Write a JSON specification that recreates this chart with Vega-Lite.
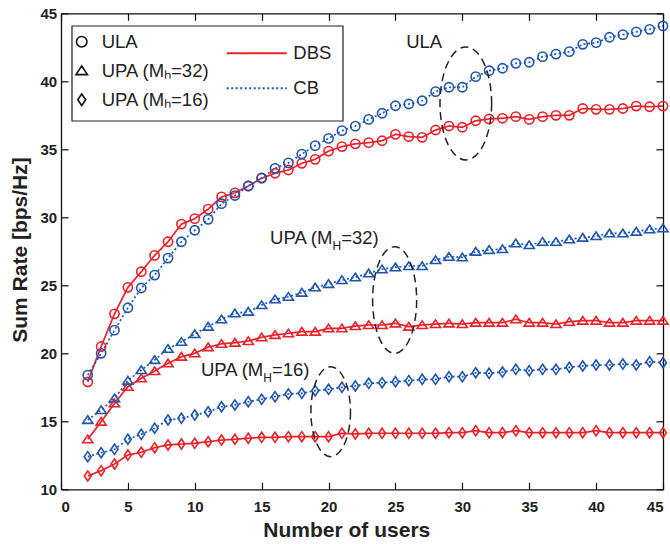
{
"$schema":"https://vega.github.io/schema/vega-lite/v6.json",
"width":602,"height":476,
"autosize":{"type":"none"},
"padding":{"left":61,"top":13.3,"right":7,"bottom":54.7},
"config":{"view":{"stroke":null},"font":"Liberation Sans",
"axis":{"grid":false,"domainColor":"#111","domainWidth":1.3,"tickColor":"#111","tickWidth":1.2,"tickSize":-7,"labelFont":"Liberation Sans","labelFontSize":15,"labelFontWeight":"bold","labelColor":"#222","titleFont":"Liberation Sans","titleFontSize":21,"titleFontWeight":"bold","titleColor":"#222"},
"legend":{"labelFont":"Liberation Sans","labelFontSize":18.5,"labelColor":"#222","padding":0,"title":null}},
"datasets":{"series":[
{"users":2,"array":"ULA","method":"DBS","rate":17.9},{"users":3,"array":"ULA","method":"DBS","rate":20.5},{"users":4,"array":"ULA","method":"DBS","rate":22.9},{"users":5,"array":"ULA","method":"DBS","rate":24.85},{"users":6,"array":"ULA","method":"DBS","rate":26.0},{"users":7,"array":"ULA","method":"DBS","rate":27.2},{"users":8,"array":"ULA","method":"DBS","rate":28.2},{"users":9,"array":"ULA","method":"DBS","rate":29.5},{"users":10,"array":"ULA","method":"DBS","rate":29.9},{"users":11,"array":"ULA","method":"DBS","rate":30.6},{"users":12,"array":"ULA","method":"DBS","rate":31.5},{"users":13,"array":"ULA","method":"DBS","rate":31.8},{"users":14,"array":"ULA","method":"DBS","rate":32.3},{"users":15,"array":"ULA","method":"DBS","rate":32.87},{"users":16,"array":"ULA","method":"DBS","rate":33.24},{"users":17,"array":"ULA","method":"DBS","rate":33.48},{"users":18,"array":"ULA","method":"DBS","rate":33.97},{"users":19,"array":"ULA","method":"DBS","rate":34.26},{"users":20,"array":"ULA","method":"DBS","rate":34.87},{"users":21,"array":"ULA","method":"DBS","rate":35.2},{"users":22,"array":"ULA","method":"DBS","rate":35.4},{"users":23,"array":"ULA","method":"DBS","rate":35.49},{"users":24,"array":"ULA","method":"DBS","rate":35.63},{"users":25,"array":"ULA","method":"DBS","rate":36.1},{"users":26,"array":"ULA","method":"DBS","rate":35.93},{"users":27,"array":"ULA","method":"DBS","rate":35.88},{"users":28,"array":"ULA","method":"DBS","rate":36.42},{"users":29,"array":"ULA","method":"DBS","rate":36.71},{"users":30,"array":"ULA","method":"DBS","rate":36.62},{"users":31,"array":"ULA","method":"DBS","rate":37.1},{"users":32,"array":"ULA","method":"DBS","rate":37.23},{"users":33,"array":"ULA","method":"DBS","rate":37.28},{"users":34,"array":"ULA","method":"DBS","rate":37.4},{"users":35,"array":"ULA","method":"DBS","rate":37.2},{"users":36,"array":"ULA","method":"DBS","rate":37.4},{"users":37,"array":"ULA","method":"DBS","rate":37.5},{"users":38,"array":"ULA","method":"DBS","rate":37.5},{"users":39,"array":"ULA","method":"DBS","rate":38.0},{"users":40,"array":"ULA","method":"DBS","rate":37.94},{"users":41,"array":"ULA","method":"DBS","rate":37.94},{"users":42,"array":"ULA","method":"DBS","rate":38.0},{"users":43,"array":"ULA","method":"DBS","rate":38.18},{"users":44,"array":"ULA","method":"DBS","rate":38.13},{"users":45,"array":"ULA","method":"DBS","rate":38.18},
{"users":2,"array":"ULA","method":"CB","rate":18.4},{"users":3,"array":"ULA","method":"CB","rate":20.0},{"users":4,"array":"ULA","method":"CB","rate":21.7},{"users":5,"array":"ULA","method":"CB","rate":23.35},{"users":6,"array":"ULA","method":"CB","rate":24.8},{"users":7,"array":"ULA","method":"CB","rate":25.75},{"users":8,"array":"ULA","method":"CB","rate":27.0},{"users":9,"array":"ULA","method":"CB","rate":28.2},{"users":10,"array":"ULA","method":"CB","rate":29.05},{"users":11,"array":"ULA","method":"CB","rate":29.85},{"users":12,"array":"ULA","method":"CB","rate":31.0},{"users":13,"array":"ULA","method":"CB","rate":31.6},{"users":14,"array":"ULA","method":"CB","rate":32.3},{"users":15,"array":"ULA","method":"CB","rate":32.9},{"users":16,"array":"ULA","method":"CB","rate":33.6},{"users":17,"array":"ULA","method":"CB","rate":34.0},{"users":18,"array":"ULA","method":"CB","rate":34.65},{"users":19,"array":"ULA","method":"CB","rate":35.27},{"users":20,"array":"ULA","method":"CB","rate":35.8},{"users":21,"array":"ULA","method":"CB","rate":36.37},{"users":22,"array":"ULA","method":"CB","rate":36.7},{"users":23,"array":"ULA","method":"CB","rate":37.2},{"users":24,"array":"ULA","method":"CB","rate":37.65},{"users":25,"array":"ULA","method":"CB","rate":38.2},{"users":26,"array":"ULA","method":"CB","rate":38.33},{"users":27,"array":"ULA","method":"CB","rate":38.57},{"users":28,"array":"ULA","method":"CB","rate":39.24},{"users":29,"array":"ULA","method":"CB","rate":39.56},{"users":30,"array":"ULA","method":"CB","rate":39.56},{"users":31,"array":"ULA","method":"CB","rate":40.34},{"users":32,"array":"ULA","method":"CB","rate":40.78},{"users":33,"array":"ULA","method":"CB","rate":40.96},{"users":34,"array":"ULA","method":"CB","rate":41.32},{"users":35,"array":"ULA","method":"CB","rate":41.4},{"users":36,"array":"ULA","method":"CB","rate":41.81},{"users":37,"array":"ULA","method":"CB","rate":42.0},{"users":38,"array":"ULA","method":"CB","rate":42.18},{"users":39,"array":"ULA","method":"CB","rate":42.72},{"users":40,"array":"ULA","method":"CB","rate":42.84},{"users":41,"array":"ULA","method":"CB","rate":43.24},{"users":42,"array":"ULA","method":"CB","rate":43.43},{"users":43,"array":"ULA","method":"CB","rate":43.63},{"users":44,"array":"ULA","method":"CB","rate":43.82},{"users":45,"array":"ULA","method":"CB","rate":44.07},
{"users":2,"array":"UPA32","method":"DBS","rate":13.68},{"users":3,"array":"UPA32","method":"DBS","rate":14.97},{"users":4,"array":"UPA32","method":"DBS","rate":16.32},{"users":5,"array":"UPA32","method":"DBS","rate":17.54},{"users":6,"array":"UPA32","method":"DBS","rate":18.16},{"users":7,"array":"UPA32","method":"DBS","rate":18.7},{"users":8,"array":"UPA32","method":"DBS","rate":19.26},{"users":9,"array":"UPA32","method":"DBS","rate":19.75},{"users":10,"array":"UPA32","method":"DBS","rate":20.0},{"users":11,"array":"UPA32","method":"DBS","rate":20.45},{"users":12,"array":"UPA32","method":"DBS","rate":20.7},{"users":13,"array":"UPA32","method":"DBS","rate":20.78},{"users":14,"array":"UPA32","method":"DBS","rate":20.9},{"users":15,"array":"UPA32","method":"DBS","rate":21.18},{"users":16,"array":"UPA32","method":"DBS","rate":21.35},{"users":17,"array":"UPA32","method":"DBS","rate":21.47},{"users":18,"array":"UPA32","method":"DBS","rate":21.59},{"users":19,"array":"UPA32","method":"DBS","rate":21.59},{"users":20,"array":"UPA32","method":"DBS","rate":21.84},{"users":21,"array":"UPA32","method":"DBS","rate":21.84},{"users":22,"array":"UPA32","method":"DBS","rate":22.0},{"users":23,"array":"UPA32","method":"DBS","rate":22.08},{"users":24,"array":"UPA32","method":"DBS","rate":22.08},{"users":25,"array":"UPA32","method":"DBS","rate":22.2},{"users":26,"array":"UPA32","method":"DBS","rate":21.96},{"users":27,"array":"UPA32","method":"DBS","rate":22.08},{"users":28,"array":"UPA32","method":"DBS","rate":22.15},{"users":29,"array":"UPA32","method":"DBS","rate":22.2},{"users":30,"array":"UPA32","method":"DBS","rate":22.15},{"users":31,"array":"UPA32","method":"DBS","rate":22.25},{"users":32,"array":"UPA32","method":"DBS","rate":22.25},{"users":33,"array":"UPA32","method":"DBS","rate":22.25},{"users":34,"array":"UPA32","method":"DBS","rate":22.5},{"users":35,"array":"UPA32","method":"DBS","rate":22.25},{"users":36,"array":"UPA32","method":"DBS","rate":22.25},{"users":37,"array":"UPA32","method":"DBS","rate":22.15},{"users":38,"array":"UPA32","method":"DBS","rate":22.32},{"users":39,"array":"UPA32","method":"DBS","rate":22.4},{"users":40,"array":"UPA32","method":"DBS","rate":22.4},{"users":41,"array":"UPA32","method":"DBS","rate":22.25},{"users":42,"array":"UPA32","method":"DBS","rate":22.25},{"users":43,"array":"UPA32","method":"DBS","rate":22.4},{"users":44,"array":"UPA32","method":"DBS","rate":22.4},{"users":45,"array":"UPA32","method":"DBS","rate":22.4},
{"users":2,"array":"UPA32","method":"CB","rate":15.1},{"users":3,"array":"UPA32","method":"CB","rate":15.83},{"users":4,"array":"UPA32","method":"CB","rate":16.69},{"users":5,"array":"UPA32","method":"CB","rate":17.99},{"users":6,"array":"UPA32","method":"CB","rate":18.77},{"users":7,"array":"UPA32","method":"CB","rate":19.51},{"users":8,"array":"UPA32","method":"CB","rate":20.33},{"users":9,"array":"UPA32","method":"CB","rate":20.85},{"users":10,"array":"UPA32","method":"CB","rate":21.42},{"users":11,"array":"UPA32","method":"CB","rate":21.96},{"users":12,"array":"UPA32","method":"CB","rate":22.5},{"users":13,"array":"UPA32","method":"CB","rate":22.94},{"users":14,"array":"UPA32","method":"CB","rate":23.06},{"users":15,"array":"UPA32","method":"CB","rate":23.55},{"users":16,"array":"UPA32","method":"CB","rate":23.97},{"users":17,"array":"UPA32","method":"CB","rate":24.16},{"users":18,"array":"UPA32","method":"CB","rate":24.46},{"users":19,"array":"UPA32","method":"CB","rate":24.85},{"users":20,"array":"UPA32","method":"CB","rate":25.1},{"users":21,"array":"UPA32","method":"CB","rate":25.39},{"users":22,"array":"UPA32","method":"CB","rate":25.59},{"users":23,"array":"UPA32","method":"CB","rate":25.88},{"users":24,"array":"UPA32","method":"CB","rate":26.18},{"users":25,"array":"UPA32","method":"CB","rate":26.32},{"users":26,"array":"UPA32","method":"CB","rate":26.42},{"users":27,"array":"UPA32","method":"CB","rate":26.42},{"users":28,"array":"UPA32","method":"CB","rate":26.86},{"users":29,"array":"UPA32","method":"CB","rate":27.1},{"users":30,"array":"UPA32","method":"CB","rate":27.06},{"users":31,"array":"UPA32","method":"CB","rate":27.47},{"users":32,"array":"UPA32","method":"CB","rate":27.6},{"users":33,"array":"UPA32","method":"CB","rate":27.67},{"users":34,"array":"UPA32","method":"CB","rate":28.09},{"users":35,"array":"UPA32","method":"CB","rate":27.96},{"users":36,"array":"UPA32","method":"CB","rate":28.2},{"users":37,"array":"UPA32","method":"CB","rate":28.2},{"users":38,"array":"UPA32","method":"CB","rate":28.38},{"users":39,"array":"UPA32","method":"CB","rate":28.5},{"users":40,"array":"UPA32","method":"CB","rate":28.62},{"users":41,"array":"UPA32","method":"CB","rate":28.82},{"users":42,"array":"UPA32","method":"CB","rate":28.82},{"users":43,"array":"UPA32","method":"CB","rate":28.94},{"users":44,"array":"UPA32","method":"CB","rate":29.12},{"users":45,"array":"UPA32","method":"CB","rate":29.19},
{"users":2,"array":"UPA16","method":"DBS","rate":10.98},{"users":3,"array":"UPA16","method":"DBS","rate":11.37},{"users":4,"array":"UPA16","method":"DBS","rate":11.86},{"users":5,"array":"UPA16","method":"DBS","rate":12.52},{"users":6,"array":"UPA16","method":"DBS","rate":12.72},{"users":7,"array":"UPA16","method":"DBS","rate":13.06},{"users":8,"array":"UPA16","method":"DBS","rate":13.26},{"users":9,"array":"UPA16","method":"DBS","rate":13.33},{"users":10,"array":"UPA16","method":"DBS","rate":13.38},{"users":11,"array":"UPA16","method":"DBS","rate":13.5},{"users":12,"array":"UPA16","method":"DBS","rate":13.62},{"users":13,"array":"UPA16","method":"DBS","rate":13.68},{"users":14,"array":"UPA16","method":"DBS","rate":13.75},{"users":15,"array":"UPA16","method":"DBS","rate":13.82},{"users":16,"array":"UPA16","method":"DBS","rate":13.82},{"users":17,"array":"UPA16","method":"DBS","rate":13.87},{"users":18,"array":"UPA16","method":"DBS","rate":13.87},{"users":19,"array":"UPA16","method":"DBS","rate":13.87},{"users":20,"array":"UPA16","method":"DBS","rate":13.87},{"users":21,"array":"UPA16","method":"DBS","rate":14.12},{"users":22,"array":"UPA16","method":"DBS","rate":14.07},{"users":23,"array":"UPA16","method":"DBS","rate":14.12},{"users":24,"array":"UPA16","method":"DBS","rate":14.12},{"users":25,"array":"UPA16","method":"DBS","rate":14.12},{"users":26,"array":"UPA16","method":"DBS","rate":14.12},{"users":27,"array":"UPA16","method":"DBS","rate":14.12},{"users":28,"array":"UPA16","method":"DBS","rate":14.12},{"users":29,"array":"UPA16","method":"DBS","rate":14.16},{"users":30,"array":"UPA16","method":"DBS","rate":14.16},{"users":31,"array":"UPA16","method":"DBS","rate":14.31},{"users":32,"array":"UPA16","method":"DBS","rate":14.16},{"users":33,"array":"UPA16","method":"DBS","rate":14.16},{"users":34,"array":"UPA16","method":"DBS","rate":14.31},{"users":35,"array":"UPA16","method":"DBS","rate":14.16},{"users":36,"array":"UPA16","method":"DBS","rate":14.16},{"users":37,"array":"UPA16","method":"DBS","rate":14.16},{"users":38,"array":"UPA16","method":"DBS","rate":14.16},{"users":39,"array":"UPA16","method":"DBS","rate":14.16},{"users":40,"array":"UPA16","method":"DBS","rate":14.31},{"users":41,"array":"UPA16","method":"DBS","rate":14.16},{"users":42,"array":"UPA16","method":"DBS","rate":14.16},{"users":43,"array":"UPA16","method":"DBS","rate":14.16},{"users":44,"array":"UPA16","method":"DBS","rate":14.16},{"users":45,"array":"UPA16","method":"DBS","rate":14.16},
{"users":2,"array":"UPA16","method":"CB","rate":12.4},{"users":3,"array":"UPA16","method":"CB","rate":12.69},{"users":4,"array":"UPA16","method":"CB","rate":12.94},{"users":5,"array":"UPA16","method":"CB","rate":13.68},{"users":6,"array":"UPA16","method":"CB","rate":14.04},{"users":7,"array":"UPA16","method":"CB","rate":14.49},{"users":8,"array":"UPA16","method":"CB","rate":15.1},{"users":9,"array":"UPA16","method":"CB","rate":15.22},{"users":10,"array":"UPA16","method":"CB","rate":15.46},{"users":11,"array":"UPA16","method":"CB","rate":15.7},{"users":12,"array":"UPA16","method":"CB","rate":16.07},{"users":13,"array":"UPA16","method":"CB","rate":16.2},{"users":14,"array":"UPA16","method":"CB","rate":16.44},{"users":15,"array":"UPA16","method":"CB","rate":16.62},{"users":16,"array":"UPA16","method":"CB","rate":16.81},{"users":17,"array":"UPA16","method":"CB","rate":17.01},{"users":18,"array":"UPA16","method":"CB","rate":17.06},{"users":19,"array":"UPA16","method":"CB","rate":17.25},{"users":20,"array":"UPA16","method":"CB","rate":17.35},{"users":21,"array":"UPA16","method":"CB","rate":17.5},{"users":22,"array":"UPA16","method":"CB","rate":17.6},{"users":23,"array":"UPA16","method":"CB","rate":17.79},{"users":24,"array":"UPA16","method":"CB","rate":17.84},{"users":25,"array":"UPA16","method":"CB","rate":17.91},{"users":26,"array":"UPA16","method":"CB","rate":17.99},{"users":27,"array":"UPA16","method":"CB","rate":18.09},{"users":28,"array":"UPA16","method":"CB","rate":18.09},{"users":29,"array":"UPA16","method":"CB","rate":18.28},{"users":30,"array":"UPA16","method":"CB","rate":18.28},{"users":31,"array":"UPA16","method":"CB","rate":18.57},{"users":32,"array":"UPA16","method":"CB","rate":18.53},{"users":33,"array":"UPA16","method":"CB","rate":18.62},{"users":34,"array":"UPA16","method":"CB","rate":18.82},{"users":35,"array":"UPA16","method":"CB","rate":18.72},{"users":36,"array":"UPA16","method":"CB","rate":18.82},{"users":37,"array":"UPA16","method":"CB","rate":18.82},{"users":38,"array":"UPA16","method":"CB","rate":18.97},{"users":39,"array":"UPA16","method":"CB","rate":19.07},{"users":40,"array":"UPA16","method":"CB","rate":19.14},{"users":41,"array":"UPA16","method":"CB","rate":19.14},{"users":42,"array":"UPA16","method":"CB","rate":19.21},{"users":43,"array":"UPA16","method":"CB","rate":19.14},{"users":44,"array":"UPA16","method":"CB","rate":19.38},{"users":45,"array":"UPA16","method":"CB","rate":19.31}
]},
"layer":[
{"data":{"values":[{}]},"mark":{"type":"rect","fill":"white","stroke":"#222","strokeWidth":1.2},
 "encoding":{"x":{"datum":0.822,"type":"quantitative","axis":null},"x2":{"datum":21.08},"y":{"datum":44.066,"type":"quantitative","axis":null},"y2":{"datum":37.08}}},
{"data":{"name":"series"},"mark":{"type":"line","strokeWidth":1.7},
 "encoding":{
  "x":{"field":"users","type":"quantitative","scale":{"domain":[0,45],"nice":false,"zero":false},
   "axis":{"orient":"bottom","values":[0,5,10,15,20,25,30,35,40,45],"labelPadding":17.6,"title":"Number of users","titleX":285.3,"titleY":47.4,"titleAlign":"center","titleBaseline":"alphabetic"}},
  "y":{"field":"rate","type":"quantitative","scale":{"domain":[10,45],"nice":false,"zero":false},
   "axis":{"orient":"left","values":[10,15,20,25,30,35,40,45],"labelPadding":11.3,"title":"Sum Rate [bps/Hz]","titleX":-35,"titleY":236.2,"titleAngle":-90,"titleAlign":"center","titleBaseline":"alphabetic"}},
  "color":{"field":"method","type":"nominal","scale":{"domain":["DBS","CB"],"range":["#EA2128","#1D55B0"]},
   "legend":{"orient":"none","legendX":164.7,"legendY":30,"title":null,"symbolType":"stroke","symbolSize":3600,"symbolStrokeWidth":2,"clipHeight":20,"labelOffset":5.6,"rowPadding":15}},
  "strokeDash":{"field":"method","type":"nominal","scale":{"domain":["DBS","CB"],"range":[[1,0],[2,2.5]]},
   "legend":{"orient":"none","legendX":164.7,"legendY":30,"title":null,"symbolType":"stroke","symbolSize":3600,"symbolStrokeWidth":2,"clipHeight":20,"labelOffset":5.6,"rowPadding":15}},
  "detail":{"field":"array"}}},
{"data":{"name":"series"},"mark":{"type":"point","filled":false,"size":85,"strokeWidth":1.6,"opacity":1},
 "encoding":{
  "x":{"field":"users","type":"quantitative","axis":{"orient":"top","values":[0,5,10,15,20,25,30,35,40,45],"labels":false,"title":null}},
  "y":{"field":"rate","type":"quantitative","axis":{"orient":"right","values":[10,15,20,25,30,35,40,45],"labels":false,"title":null}},
  "color":{"field":"method","type":"nominal"},
  "shape":{"field":"array","type":"nominal","scale":{"domain":["ULA","UPA32","UPA16"],"range":["circle","M 0 -0.9 L 1.1 0.75 L -1.1 0.75 Z","M 0 -1.1 L 0.75 0 L 0 1.1 L -0.75 0 Z"]},
   "legend":{"orient":"none","legendX":11.45,"legendY":19.15,"title":null,"symbolSize":110,"symbolStrokeWidth":1.6,"symbolStrokeColor":"#111","symbolFillColor":"transparent","labelOffset":10.75,"rowPadding":10,
    "labelExpr":"datum.value == 'UPA32' ? 'UPA (Mₕ=32)' : datum.value == 'UPA16' ? 'UPA (Mₕ=16)' : datum.value"}}}},
{"data":{"values":[{}]},"mark":{"type":"point","shape":"M 0.457 0 A 0.457 1 0 1 1 -0.457 0 A 0.457 1 0 1 1 0.457 0 Z","size":12769,"filled":false,"stroke":"#222","strokeWidth":1.5,"strokeDash":[8,5],"opacity":1},
 "encoding":{"x":{"datum":30.26,"type":"quantitative","axis":null},"y":{"datum":38.37,"type":"quantitative","axis":null}}},
{"data":{"values":[{}]},"mark":{"type":"point","shape":"M 0.413 0 A 0.413 1 0 1 1 -0.413 0 A 0.413 1 0 1 1 0.413 0 Z","size":11364,"filled":false,"stroke":"#222","strokeWidth":1.5,"strokeDash":[8,5],"opacity":1},
 "encoding":{"x":{"datum":24.94,"type":"quantitative","axis":null},"y":{"datum":23.92,"type":"quantitative","axis":null}}},
{"data":{"values":[{}]},"mark":{"type":"point","shape":"M 0.44 0 A 0.44 1 0 1 1 -0.44 0 A 0.44 1 0 1 1 0.44 0 Z","size":8100,"filled":false,"stroke":"#222","strokeWidth":1.5,"strokeDash":[8,5],"opacity":1},
 "encoding":{"x":{"datum":20.16,"type":"quantitative","axis":null},"y":{"datum":15.71,"type":"quantitative","axis":null}}},
{"data":{"values":[{}]},"mark":{"type":"text","text":"ULA","align":"center","baseline":"alphabetic","fontSize":18.5,"font":"Liberation Sans","color":"#222"},
 "encoding":{"x":{"datum":27.15,"type":"quantitative","axis":null},"y":{"datum":42.47,"type":"quantitative","axis":null}}},
{"data":{"values":[{}]},"mark":{"type":"text","text":"UPA (M","align":"right","baseline":"alphabetic","fontSize":18.5,"font":"Liberation Sans","color":"#222"},
 "encoding":{"x":{"datum":20.29,"type":"quantitative","axis":null},"y":{"datum":28.01,"type":"quantitative","axis":null}}},
{"data":{"values":[{}]},"mark":{"type":"text","text":"H","align":"left","baseline":"alphabetic","dy":5.5,"fontSize":12,"font":"Liberation Sans","color":"#222"},
 "encoding":{"x":{"datum":20.29,"type":"quantitative","axis":null},"y":{"datum":28.01,"type":"quantitative","axis":null}}},
{"data":{"values":[{}]},"mark":{"type":"text","text":"=32)","align":"left","baseline":"alphabetic","dx":8.7,"fontSize":18.5,"font":"Liberation Sans","color":"#222"},
 "encoding":{"x":{"datum":20.29,"type":"quantitative","axis":null},"y":{"datum":28.01,"type":"quantitative","axis":null}}},
{"data":{"values":[{}]},"mark":{"type":"text","text":"UPA (M","align":"right","baseline":"alphabetic","fontSize":18.5,"font":"Liberation Sans","color":"#222"},
 "encoding":{"x":{"datum":15.12,"type":"quantitative","axis":null},"y":{"datum":18.31,"type":"quantitative","axis":null}}},
{"data":{"values":[{}]},"mark":{"type":"text","text":"H","align":"left","baseline":"alphabetic","dy":5.5,"fontSize":12,"font":"Liberation Sans","color":"#222"},
 "encoding":{"x":{"datum":15.12,"type":"quantitative","axis":null},"y":{"datum":18.31,"type":"quantitative","axis":null}}},
{"data":{"values":[{}]},"mark":{"type":"text","text":"=16)","align":"left","baseline":"alphabetic","dx":8.7,"fontSize":18.5,"font":"Liberation Sans","color":"#222"},
 "encoding":{"x":{"datum":15.12,"type":"quantitative","axis":null},"y":{"datum":18.31,"type":"quantitative","axis":null}}}
],
"resolve":{"axis":{"x":"independent","y":"independent"}}
}
